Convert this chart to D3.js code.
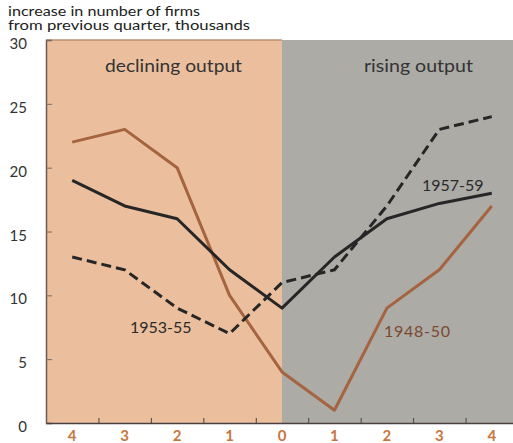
<!DOCTYPE html>
<html><head><meta charset="utf-8">
<script src="https://cdn.jsdelivr.net/npm/d3@7"></script>
<style>
html,body{margin:0;padding:0;background:#fff;}
svg{display:block;font-family:"Century Gothic",Futura,Lato,"Noto Sans",sans-serif;}
</style></head>
<body>
<script>
const quarters = [-4,-3,-2,-1,0,1,2,3,4];
const xTickLabels = ["4","3","2","1","0","1","2","3","4"];
const yTicks = [0,5,10,15,20,25,30];
const s1948 = [22,23,20,10,4,1,9,12,17];
const s1957 = [19,17,16,12,9,13,16,17.2,18];
const s1953 = [13,12,9,7,11,12,17,23,24];
const titleLines = ["increase in number of firms","from previous quarter, thousands"];

const W=513,H=443;
const svg=d3.select("body").append("svg").attr("width",W).attr("height",H);
const x=d3.scaleLinear().domain([-4.5,4.5]).range([46,518]);
const y=d3.scaleLinear().domain([0,30]).range([423,40]);

// backgrounds
svg.append("rect").attr("x",x(-4.5)).attr("y",y(30)).attr("width",x(0)-x(-4.5)).attr("height",y(0)-y(30)).attr("fill","#ebbf9d");
svg.append("rect").attr("x",x(0)).attr("y",y(30)).attr("width",x(4.5)-x(0)).attr("height",y(0)-y(30)).attr("fill","#acaba6");
svg.append("line").attr("x1",x(-4.5)).attr("x2",x(0)).attr("y1",y(30)).attr("y2",y(30)).attr("stroke","#b89075").attr("stroke-width",1.5);

// region labels
svg.append("text").attr("x",105).attr("y",72).attr("font-size",18).attr("fill","#333")
  .attr("textLength",137).attr("lengthAdjust","spacingAndGlyphs").text("declining output");
svg.append("text").attr("x",364).attr("y",72).attr("font-size",18).attr("fill","#333")
  .attr("textLength",109).attr("lengthAdjust","spacingAndGlyphs").text("rising output");

// y axis
const yAxis=d3.axisRight(y).tickValues(yTicks).tickSize(6).tickFormat("");
const gy=svg.append("g").attr("transform",`translate(${x(-4.5)},0)`).call(yAxis);
gy.select(".domain").attr("stroke","#6b5a50").attr("stroke-width",1.5);
gy.selectAll(".tick line").attr("stroke","#7a6a60");
svg.selectAll(".ylab").data(yTicks).enter().append("text")
  .attr("x",27).attr("y",d=>y(d)+9).attr("text-anchor","end")
  .attr("font-size",15).attr("fill","#333").text(d=>d);

// x axis
const xAxis=d3.axisTop(x).tickValues([-3.5,-2.5,-1.5,-0.5,0.5,1.5,2.5,3.5]).tickSize(5).tickSizeOuter(0).tickFormat("");
const gx=svg.append("g").attr("transform",`translate(0,${y(0)})`).call(xAxis);
gx.select(".domain").attr("stroke","#4a4040").attr("stroke-width",1.5);
gx.selectAll(".tick line").attr("stroke","#4a4040");
svg.selectAll(".xlab").data(quarters).enter().append("text")
  .attr("x",d=>x(d)).attr("y",441).attr("text-anchor","middle")
  .attr("font-size",15).attr("font-weight","bold").attr("fill","#c87640")
  .text((d,i)=>xTickLabels[i]);

// title
const tlLen=[192,242];
svg.selectAll(".tl").data(titleLines).enter().append("text")
  .attr("x",8).attr("y",(d,i)=>16+i*14).attr("font-size",12.5).attr("fill","#222")
  .attr("textLength",(d,i)=>tlLen[i]).attr("lengthAdjust","spacingAndGlyphs").text(d=>d);

const line=d3.line().x((d,i)=>x(quarters[i])).y(d=>y(d));
svg.append("path").datum(s1948).attr("d",line).attr("fill","none").attr("stroke","#a5643f").attr("stroke-width",3).attr("stroke-linejoin","round");
svg.append("path").datum(s1957).attr("d",line).attr("fill","none").attr("stroke","#262626").attr("stroke-width",3).attr("stroke-linejoin","round");
svg.append("path").datum(s1953).attr("d",line).attr("fill","none").attr("stroke","#262626").attr("stroke-width",3).attr("stroke-dasharray","10,5");

// series labels
svg.append("text").attr("x",130).attr("y",333).attr("font-size",16).attr("fill","#2a2a2a").text("1953-55");
svg.append("text").attr("x",422).attr("y",191).attr("font-size",16).attr("fill","#2a2a2a").text("1957-59");
svg.append("text").attr("x",384).attr("y",337).attr("font-size",16).attr("fill","#7a4a30").attr("textLength",66).text("1948-50");
</script>
</body></html>
